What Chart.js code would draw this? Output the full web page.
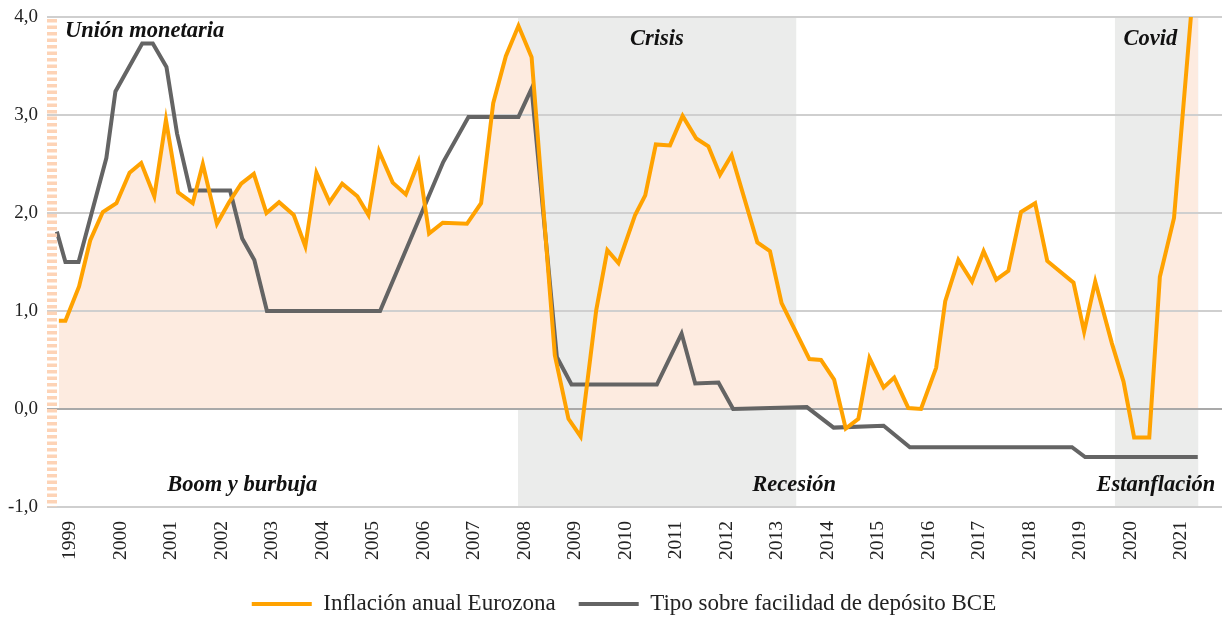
<!DOCTYPE html>
<html>
<head>
<meta charset="utf-8">
<script src="https://cdn.jsdelivr.net/npm/chart.js@4/dist/chart.umd.min.js"></script>
<style>
  html, body { margin: 0; padding: 0; background: #ffffff; }
  #wrap { width: 1222px; height: 618px; position: relative; }
</style>
</head>
<body>
<div id="wrap"><canvas id="c" width="1222" height="618"></canvas></div>
<script>
// ---- Data (decimal years) ----
const yearLabels = ['1999','2000','2001','2002','2003','2004','2005','2006','2007','2008','2009','2010','2011','2012','2013','2014','2015','2016','2017','2018','2019','2020','2021'];

const inflationDates = [1999.28,1999.41,1999.68,1999.90,2000.15,2000.42,2000.68,2000.91,2001.17,2001.40,
  2001.64,2001.93,2002.13,2002.41,2002.65,2002.89,2003.14,2003.39,2003.64,2003.93,
  2004.16,2004.38,2004.64,2004.89,2005.19,2005.41,2005.62,2005.89,2006.15,2006.40,
  2006.61,2006.88,2007.36,2007.64,2007.88,2008.13,2008.38,2008.64,2009.10,2009.37,
  2009.61,2009.92,2010.14,2010.36,2010.69,2010.89,2011.10,2011.38,2011.63,2011.90,
  2012.14,2012.37,2012.60,2013.11,2013.36,2013.59,2014.14,2014.37,2014.63,2014.86,
  2015.11,2015.33,2015.61,2015.82,2016.10,2016.35,2016.65,2016.83,2017.09,2017.36,
  2017.59,2017.84,2018.08,2018.33,2018.61,2018.85,2019.37,2019.58,2019.80,2020.13,
  2020.36,2020.57,2020.87,2021.08,2021.36,2021.84];
const inflationValues = [0.90,0.90,1.25,1.72,2.01,2.10,2.41,2.51,2.17,2.95,
  2.21,2.10,2.50,1.89,2.11,2.30,2.40,2.00,2.11,1.98,
  1.66,2.41,2.11,2.30,2.17,1.98,2.63,2.31,2.19,2.52,
  1.79,1.90,1.89,2.10,3.12,3.60,3.91,3.59,0.55,-0.10,
  -0.28,1.01,1.62,1.49,1.98,2.18,2.70,2.69,2.99,2.76,
  2.68,2.39,2.59,1.70,1.61,1.08,0.51,0.50,0.30,-0.20,
  -0.10,0.52,0.22,0.32,0.01,0.00,0.42,1.10,1.52,1.30,
  1.61,1.32,1.41,2.01,2.10,1.51,1.29,0.79,1.30,0.67,
  0.28,-0.29,-0.29,1.35,1.95,4.90];

const rateDates = [1999.24,1999.41,1999.67,2000.22,2000.40,2000.93,2001.14,2001.41,2001.62,2001.88,
  2002.67,2002.91,2003.15,2003.40,2005.64,2006.89,2007.39,2008.38,2008.64,2009.14,
  2009.43,2011.12,2011.61,2011.88,2012.34,2012.63,2014.09,2014.62,2015.61,2016.13,
  2019.34,2019.60,2021.83];
const rateValues = [1.81,1.50,1.50,2.56,3.24,3.73,3.73,3.49,2.81,2.23,
  2.23,1.74,1.52,1.00,1.00,2.52,2.98,2.98,3.27,0.53,
  0.25,0.25,0.77,0.26,0.27,0.00,0.02,-0.19,-0.17,-0.39,
  -0.39,-0.49,-0.49];

const seriesNames = ['Inflación anual Eurozona', 'Tipo sobre facilidad de depósito BCE'];

// shaded periods [start, end] in decimal years
const periodStarts = [2008.37, 2020.19];
const periodEnds   = [2013.88, 2021.84];

// annotation texts with anchor (year, value)
const noteTexts  = ['Unión monetaria', 'Crisis', 'Covid', 'Boom y burbuja', 'Recesión', 'Estanflación'];
const noteYears  = [1999.40, 2011.12, 2020.89, 2002.91, 2013.84, 2021.00];
const noteValues = [3.796, 3.714, 3.714, -0.837, -0.837, -0.837];
const noteAlign  = ['left', 'center', 'center', 'center', 'center', 'center'];

const xMin = 1999.045, xMax = 2022.31;
const FONT = "'Liberation Serif', 'Times New Roman', serif";
const LEGEND_FS = 23, LEGEND_PAD = 23;

const toPoints = (xs, ys) => xs.map((x, i) => ({ x: x, y: ys[i] }));

const bandsPlugin = {
  id: 'bands',
  afterLayout(chart) {
    const lg = chart.legend;
    if (lg) {
      const dx = 624 - (lg.left + lg.right) / 2;
      lg.left += dx; lg.right += dx;
      const h = lg.bottom - lg.top;
      lg.top = 604 - LEGEND_PAD - LEGEND_FS / 2;
      lg.bottom = lg.top + h;
    }
  },
  beforeDraw(chart) {
    const { ctx, chartArea, scales } = chart;
    const xs = scales.x;
    ctx.save();
    ctx.fillStyle = '#ebeceb';
    for (let i = 0; i < periodStarts.length; i++) {
      const x0 = xs.getPixelForValue(periodStarts[i]);
      const x1 = xs.getPixelForValue(periodEnds[i]);
      ctx.fillRect(x0, chartArea.top, x1 - x0, chartArea.bottom - chartArea.top);
    }
    ctx.restore();
  }
};

const gridPlugin = {
  id: 'gridOver',
  beforeDatasetsDraw(chart) {
    const { ctx, chartArea, scales } = chart;
    const ys = scales.y;
    ctx.save();
    ys.ticks.forEach(t => {
      const y = Math.round(ys.getPixelForValue(t.value));
      ctx.beginPath();
      ctx.lineWidth = 2;
      ctx.strokeStyle = t.value === 0 ? '#a9a9a9' : '#cfcfcf';
      ctx.moveTo(chartArea.left, y);
      ctx.lineTo(chartArea.right, y);
      ctx.stroke();
    });
    ctx.restore();
  },
  afterDatasetsDraw(chart) {
    const { ctx, chartArea, scales } = chart;
    ctx.save();
    // dashed peach bar on the left edge
    ctx.beginPath();
    ctx.setLineDash([3.5, 3]);
    ctx.lineWidth = 10;
    ctx.strokeStyle = '#fdd3b6';
    ctx.moveTo(chartArea.left + 5, chartArea.top + 2);
    ctx.lineTo(chartArea.left + 5, chartArea.bottom);
    ctx.stroke();
    ctx.setLineDash([]);
    // annotations
    ctx.fillStyle = '#111111';
    ctx.font = "italic bold 22.5px " + FONT;
    ctx.textBaseline = 'alphabetic';
    for (let i = 0; i < noteTexts.length; i++) {
      ctx.textAlign = noteAlign[i];
      ctx.fillText(noteTexts[i], scales.x.getPixelForValue(noteYears[i]), scales.y.getPixelForValue(noteValues[i]));
    }
    ctx.restore();
  }
};

new Chart(document.getElementById('c'), {
  type: 'line',
  data: {
    datasets: [
      {
        label: seriesNames[0],
        data: toPoints(inflationDates, inflationValues),
        borderColor: '#ffa200',
        borderWidth: 4,
        pointRadius: 0,
        tension: 0,
        fill: { target: 'origin', above: '#fdebe0', below: 'rgba(0,0,0,0)' },
        clip: { left: 4, right: 4, top: 0, bottom: 4 }
      },
      {
        label: seriesNames[1],
        data: toPoints(rateDates, rateValues),
        borderColor: '#646464',
        borderWidth: 4,
        pointRadius: 0,
        tension: 0,
        fill: false
      }
    ]
  },
  options: {
    responsive: false,
    animation: false,
    events: [],
    layout: { padding: { top: 17, left: 0, right: 0, bottom: 0 } },
    scales: {
      x: {
        type: 'linear',
        min: xMin,
        max: xMax,
        grid: { display: false, drawTicks: false },
        border: { display: false },
        afterBuildTicks(scale) {
          scale.ticks = yearLabels.map(y => ({ value: Number(y) + 0.5 }));
        },
        afterFit(scale) { scale.height = 55; scale.paddingLeft = 0; scale.paddingRight = 0; },
        ticks: {
          autoSkip: false,
          minRotation: 90,
          maxRotation: 90,
          padding: 14,
          color: '#222222',
          font: { family: FONT, size: 19.5 },
          callback: (v) => yearLabels[Math.round(v - 0.5) - 1999]
        }
      },
      y: {
        min: -1,
        max: 4,
        grid: { display: false, drawTicks: false },
        border: { display: false },
        afterFit(scale) { scale.width = 47; scale.paddingTop = 0; scale.paddingBottom = 0; },
        ticks: {
          stepSize: 1,
          padding: 9,
          color: '#222222',
          font: { family: FONT, size: 19 },
          callback: (v) => v.toFixed(1).replace('.', ',')
        }
      }
    },
    plugins: {
      filler: { drawTime: 'beforeDatasetsDraw' },
      tooltip: { enabled: false },
      legend: {
        position: 'bottom',
        labels: {
          font: { family: FONT, size: LEGEND_FS },
          color: '#222222',
          boxWidth: 60,
          boxHeight: 4,
          padding: LEGEND_PAD,
          generateLabels(chart) {
            return chart.data.datasets.map((ds, i) => ({
              text: ds.label,
              fillStyle: ds.borderColor,
              strokeStyle: ds.borderColor,
              lineWidth: 0,
              hidden: false,
              datasetIndex: i,
              fontColor: '#222222'
            }));
          }
        }
      }
    }
  },
  plugins: [bandsPlugin, gridPlugin]
});
</script>
</body>
</html>
